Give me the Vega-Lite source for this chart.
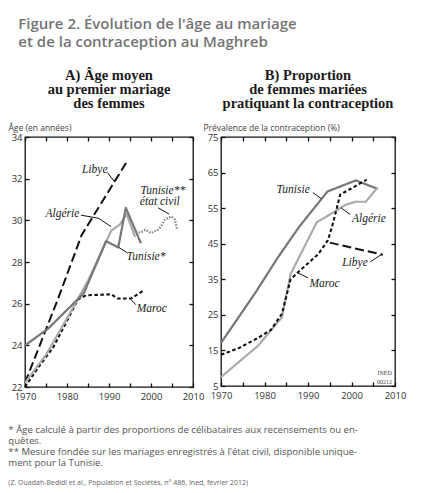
{
  "$schema": "https://vega.github.io/schema/vega-lite/v6.json",
  "padding": {"left": 7, "top": 17, "right": 5, "bottom": 2},
  "background": "white",
  "datasets": {
    "ageLignes": [
      {"pays": "Libye", "annee": 1970, "valeur": 22.2},
      {"pays": "Libye", "annee": 1977.8, "valeur": 26.2},
      {"pays": "Libye", "annee": 1983.5, "valeur": 29.3},
      {"pays": "Libye", "annee": 1994.5, "valeur": 32.9},
      {"pays": "Maroc", "annee": 1970, "valeur": 22.0},
      {"pays": "Maroc", "annee": 1973, "valeur": 22.9},
      {"pays": "Maroc", "annee": 1976.7, "valeur": 23.9},
      {"pays": "Maroc", "annee": 1979.8, "valeur": 25.1},
      {"pays": "Maroc", "annee": 1982.6, "valeur": 26.2},
      {"pays": "Maroc", "annee": 1984.5, "valeur": 26.4},
      {"pays": "Maroc", "annee": 1990.5, "valeur": 26.45},
      {"pays": "Maroc", "annee": 1992, "valeur": 26.25},
      {"pays": "Maroc", "annee": 1995.3, "valeur": 26.25},
      {"pays": "Maroc", "annee": 1998, "valeur": 26.6},
      {"pays": "Algérie", "annee": 1970, "valeur": 22.2},
      {"pays": "Algérie", "annee": 1975, "valeur": 23.55},
      {"pays": "Algérie", "annee": 1980, "valeur": 25.3},
      {"pays": "Algérie", "annee": 1985, "valeur": 27.1},
      {"pays": "Algérie", "annee": 1988, "valeur": 28.4},
      {"pays": "Algérie", "annee": 1990.5, "valeur": 29.5},
      {"pays": "Algérie", "annee": 1992.6, "valeur": 29.8},
      {"pays": "Algérie", "annee": 1994.2, "valeur": 30.3},
      {"pays": "Algérie", "annee": 1996.2, "valeur": 29.2},
      {"pays": "Tunisie", "annee": 1970, "valeur": 24.0},
      {"pays": "Tunisie", "annee": 1975.5, "valeur": 24.8},
      {"pays": "Tunisie", "annee": 1984, "valeur": 26.5},
      {"pays": "Tunisie", "annee": 1989.3, "valeur": 29.0},
      {"pays": "Tunisie", "annee": 1992.2, "valeur": 28.7},
      {"pays": "Tunisie", "annee": 1994, "valeur": 30.6},
      {"pays": "Tunisie", "annee": 1997.6, "valeur": 28.9},
      {"pays": "Tunisie (état civil)", "annee": 1996.4, "valeur": 29.47},
      {"pays": "Tunisie (état civil)", "annee": 1997.5, "valeur": 29.4},
      {"pays": "Tunisie (état civil)", "annee": 1998.6, "valeur": 29.55},
      {"pays": "Tunisie (état civil)", "annee": 2000, "valeur": 29.39},
      {"pays": "Tunisie (état civil)", "annee": 2001.7, "valeur": 29.55},
      {"pays": "Tunisie (état civil)", "annee": 2002.5, "valeur": 29.75},
      {"pays": "Tunisie (état civil)", "annee": 2003.3, "valeur": 30.03},
      {"pays": "Tunisie (état civil)", "annee": 2004.8, "valeur": 30.19},
      {"pays": "Tunisie (état civil)", "annee": 2005.7, "valeur": 30.03},
      {"pays": "Tunisie (état civil)", "annee": 2006.2, "valeur": 29.55}
    ],
    "contraLignes": [
      {"pays": "Tunisie", "annee": 1970, "valeur": 17.1},
      {"pays": "Tunisie", "annee": 1978, "valeur": 31.4},
      {"pays": "Tunisie", "annee": 1983, "valeur": 41.0},
      {"pays": "Tunisie", "annee": 1988, "valeur": 49.8},
      {"pays": "Tunisie", "annee": 1994.5, "valeur": 59.7},
      {"pays": "Tunisie", "annee": 2001, "valeur": 62.8},
      {"pays": "Tunisie", "annee": 2006, "valeur": 60.4},
      {"pays": "Algérie", "annee": 1970, "valeur": 7.5},
      {"pays": "Algérie", "annee": 1978.5, "valeur": 16.3},
      {"pays": "Algérie", "annee": 1984, "valeur": 24.3},
      {"pays": "Algérie", "annee": 1986, "valeur": 36.5},
      {"pays": "Algérie", "annee": 1992, "valeur": 51.0},
      {"pays": "Algérie", "annee": 1995, "valeur": 53.2},
      {"pays": "Algérie", "annee": 1998.7, "valeur": 56.0},
      {"pays": "Algérie", "annee": 2001, "valeur": 56.8},
      {"pays": "Algérie", "annee": 2003.3, "valeur": 56.8},
      {"pays": "Algérie", "annee": 2006, "valeur": 60.8},
      {"pays": "Maroc", "annee": 1970, "valeur": 13.8},
      {"pays": "Maroc", "annee": 1974, "valeur": 15.6},
      {"pays": "Maroc", "annee": 1978.5, "valeur": 18.5},
      {"pays": "Maroc", "annee": 1981.5, "valeur": 20.8},
      {"pays": "Maroc", "annee": 1984, "valeur": 25.3},
      {"pays": "Maroc", "annee": 1986, "valeur": 35.0},
      {"pays": "Maroc", "annee": 1988, "valeur": 37.3},
      {"pays": "Maroc", "annee": 1992.3, "valeur": 42.0},
      {"pays": "Maroc", "annee": 1994.6, "valeur": 46.0},
      {"pays": "Maroc", "annee": 1995.8, "valeur": 51.0},
      {"pays": "Maroc", "annee": 1997.4, "valeur": 58.8},
      {"pays": "Maroc", "annee": 2003.5, "valeur": 63.0},
      {"pays": "Libye", "annee": 1995, "valeur": 45.3},
      {"pays": "Libye", "annee": 2007.2, "valeur": 41.9}
    ],
    "ageEtiquettes": [
      {"texte": "Libye", "annee": 1986.6, "valeur": 32.43},
      {"texte": "Algérie", "annee": 1978.9, "valeur": 30.3},
      {"texte": "Tunisie*", "annee": 1998.8, "valeur": 28.26},
      {"texte": "Tunisie**", "annee": 2002.8, "valeur": 31.42},
      {"texte": "état civil", "annee": 2002.1, "valeur": 30.88},
      {"texte": "Maroc", "annee": 2000.2, "valeur": 25.75}
    ],
    "contraEtiquettes": [
      {"texte": "Tunisie", "annee": 1986.6, "valeur": 60.0},
      {"texte": "Algérie", "annee": 2004.0, "valeur": 52.0},
      {"texte": "Libye", "annee": 2000.8, "valeur": 39.7},
      {"texte": "Maroc", "annee": 1993.8, "valeur": 33.6}
    ],
    "contraSource": [
      {"texte": "INED", "annee": 2007.6, "valeur": 8.6},
      {"texte": "00212", "annee": 2007.6, "valeur": 6.0}
    ],
    "ageFleches": [
      {"x1": 1989.6, "y1": 32.3, "x2": 1991.3, "y2": 31.85},
      {"x1": 1983.3, "y1": 30.25, "x2": 1987.5, "y2": 30.1},
      {"x1": 1987.5, "y1": 30.1, "x2": 1990.5, "y2": 29.7},
      {"x1": 1992.3, "y1": 28.7, "x2": 1994.3, "y2": 28.45},
      {"x1": 2001.7, "y1": 30.6, "x2": 2004.3, "y2": 30.3},
      {"x1": 1995.2, "y1": 26.2, "x2": 1996.4, "y2": 25.95}
    ],
    "contraFleches": [
      {"x1": 1991.1, "y1": 59.4, "x2": 1993.0, "y2": 57.7},
      {"x1": 1997.6, "y1": 55.1, "x2": 1999.7, "y2": 53.2},
      {"x1": 2004.3, "y1": 39.9, "x2": 2006.8, "y2": 41.9},
      {"x1": 1987.7, "y1": 36.8, "x2": 1990.0, "y2": 35.4}
    ]
  },
  "title": {
    "text": ["Figure 2. Évolution de l'âge au mariage", "et de la contraception au Maghreb"],
    "anchor": "start",
    "frame": "bounds",
    "dx": 11,
    "font": "Open Sans",
    "fontSize": 15,
    "fontWeight": 600,
    "color": "#747474",
    "lineHeight": 17.5,
    "offset": 17
  },
  "vconcat": [
    {
      "bounds": "flush",
      "spacing": 28,
      "title": {
        "text": [
          "* Âge calculé à partir des proportions de célibataires aux recensements ou en-",
          "quêtes.",
          "** Mesure fondée sur les mariages enregistrés à l'état civil, disponible unique-",
          "ment pour la Tunisie."
        ],
        "subtitle": "(Z. Ouadah-Bedidi et al., Population et Sociétés, n° 486, Ined, février 2012)",
        "orient": "bottom",
        "anchor": "start",
        "frame": "bounds",
        "dx": 1,
        "font": "Open Sans",
        "fontSize": 9.6,
        "fontWeight": "normal",
        "color": "#555555",
        "lineHeight": 11,
        "offset": 24,
        "subtitleFont": "Open Sans",
        "subtitleFontSize": 7,
        "subtitleColor": "#666666",
        "subtitlePadding": 11
      },
      "hconcat": [
        {
          "width": 168,
          "height": 250,
          "title": {
            "text": ["A) Âge moyen", "au premier mariage", "des femmes"],
            "anchor": "middle",
            "frame": "group",
            "font": "Liberation Serif",
            "fontSize": 14.5,
            "fontWeight": "bold",
            "color": "#1a1a1a",
            "lineHeight": 14,
            "offset": 12
          },
          "layer": [
            {
              "data": {"name": "ageLignes"},
              "mark": {"type": "line", "strokeCap": "butt", "strokeJoin": "round"},
              "encoding": {
                "x": {
                  "field": "annee", "type": "quantitative",
                  "scale": {"domain": [1970, 2010], "nice": false, "zero": false},
                  "axis": {"orient": "bottom", "labelPadding": 8, "values": [1970, 1975, 1980, 1985, 1990, 1995, 2000, 2005, 2010], "labelExpr": "datum.value % 10 === 0 ? datum.label : ''", "format": "d", "title": null}
                },
                "y": {
                  "field": "valeur", "type": "quantitative",
                  "scale": {"domain": [22, 34], "nice": false, "zero": false},
                  "axis": {"orient": "left", "values": [22, 24, 26, 28, 30, 32, 34], "title": "Âge (en années)", "titleAngle": 0, "titleAlign": "left", "titleBaseline": "alphabetic", "titleX": -17, "titleY": -7}
                },
                "color": {"field": "pays", "type": "nominal", "legend": null, "scale": {"domain": ["Libye", "Maroc", "Algérie", "Tunisie", "Tunisie (état civil)"], "range": ["#111111", "#111111", "#aaaaaa", "#777777", "#888888"]}},
                "strokeDash": {"field": "pays", "type": "nominal", "legend": null, "scale": {"domain": ["Libye", "Maroc", "Algérie", "Tunisie", "Tunisie (état civil)"], "range": [[9, 4], [3.5, 2.5], [1, 0], [1, 0], [1.5, 1.5]]}},
                "strokeWidth": {"field": "pays", "type": "nominal", "legend": null, "scale": {"domain": ["Libye", "Maroc", "Algérie", "Tunisie", "Tunisie (état civil)"], "range": [2, 2.3, 3.2, 1.1, 0.8]}}
              }
            },
            {
              "data": {"name": "ageFleches"},
              "mark": {"type": "rule", "color": "#111111", "strokeWidth": 1},
              "encoding": {
                "x": {"field": "x1", "type": "quantitative", "scale": {"domain": [1970, 2010], "nice": false, "zero": false}, "axis": {"orient": "top", "values": [1970, 1975, 1980, 1985, 1990, 1995, 2000, 2005, 2010], "labels": false, "title": null}},
                "y": {"field": "y1", "type": "quantitative", "scale": {"domain": [22, 34], "nice": false, "zero": false}, "axis": {"orient": "right", "values": [22, 24, 26, 28, 30, 32, 34], "labels": false, "title": null}},
                "x2": {"field": "x2"},
                "y2": {"field": "y2"}
              }
            },
            {
              "data": {"name": "ageEtiquettes"},
              "mark": {"type": "text", "font": "Liberation Serif", "fontStyle": "italic", "fontSize": 11.5, "color": "#222222", "align": "center", "baseline": "middle"},
              "encoding": {
                "x": {"field": "annee", "type": "quantitative", "scale": {"domain": [1970, 2010], "nice": false, "zero": false}, "axis": null},
                "y": {"field": "valeur", "type": "quantitative", "scale": {"domain": [22, 34], "nice": false, "zero": false}, "axis": null},
                "text": {"field": "texte"}
              }
            }
          ],
          "resolve": {"axis": {"x": "independent", "y": "independent"}}
        },
        {
          "width": 174,
          "height": 249,
          "title": {
            "text": ["B) Proportion", "de femmes mariées", "pratiquant la contraception"],
            "anchor": "middle",
            "frame": "group",
            "font": "Liberation Serif",
            "fontSize": 14.5,
            "fontWeight": "bold",
            "color": "#1a1a1a",
            "lineHeight": 14,
            "offset": 12
          },
          "layer": [
            {
              "data": {"name": "contraLignes"},
              "mark": {"type": "line", "strokeCap": "butt", "strokeJoin": "round"},
              "encoding": {
                "x": {
                  "field": "annee", "type": "quantitative",
                  "scale": {"domain": [1970, 2010], "nice": false, "zero": false},
                  "axis": {"orient": "bottom", "labelPadding": 8, "values": [1970, 1975, 1980, 1985, 1990, 1995, 2000, 2005, 2010], "labelExpr": "datum.value % 10 === 0 ? datum.label : ''", "format": "d", "title": null}
                },
                "y": {
                  "field": "valeur", "type": "quantitative",
                  "scale": {"domain": [5, 75], "nice": false, "zero": false},
                  "axis": {"orient": "left", "values": [5, 15, 25, 35, 45, 55, 65, 75], "title": "Prévalence de la contraception (%)", "titleAngle": 0, "titleAlign": "left", "titleBaseline": "alphabetic", "titleX": -18, "titleY": -7}
                },
                "color": {"field": "pays", "type": "nominal", "legend": null, "scale": {"domain": ["Libye", "Maroc", "Algérie", "Tunisie", "Tunisie (état civil)"], "range": ["#111111", "#111111", "#aaaaaa", "#777777", "#888888"]}},
                "strokeDash": {"field": "pays", "type": "nominal", "legend": null, "scale": {"domain": ["Libye", "Maroc", "Algérie", "Tunisie", "Tunisie (état civil)"], "range": [[9, 4], [3.5, 2.5], [1, 0], [1, 0], [1.5, 1.5]]}},
                "strokeWidth": {"field": "pays", "type": "nominal", "legend": null, "scale": {"domain": ["Libye", "Maroc", "Algérie", "Tunisie", "Tunisie (état civil)"], "range": [2, 2.3, 3.2, 1.1, 0.8]}}
              }
            },
            {
              "data": {"name": "contraFleches"},
              "mark": {"type": "rule", "color": "#111111", "strokeWidth": 1},
              "encoding": {
                "x": {"field": "x1", "type": "quantitative", "scale": {"domain": [1970, 2010], "nice": false, "zero": false}, "axis": {"orient": "top", "values": [1970, 1975, 1980, 1985, 1990, 1995, 2000, 2005, 2010], "labels": false, "title": null}},
                "y": {"field": "y1", "type": "quantitative", "scale": {"domain": [5, 75], "nice": false, "zero": false}, "axis": {"orient": "right", "values": [5, 15, 25, 35, 45, 55, 65, 75], "labels": false, "title": null}},
                "x2": {"field": "x2"},
                "y2": {"field": "y2"}
              }
            },
            {
              "data": {"name": "contraEtiquettes"},
              "mark": {"type": "text", "font": "Liberation Serif", "fontStyle": "italic", "fontSize": 11.5, "color": "#222222", "align": "center", "baseline": "middle"},
              "encoding": {
                "x": {"field": "annee", "type": "quantitative", "scale": {"domain": [1970, 2010], "nice": false, "zero": false}, "axis": null},
                "y": {"field": "valeur", "type": "quantitative", "scale": {"domain": [5, 75], "nice": false, "zero": false}, "axis": null},
                "text": {"field": "texte"}
              }
            },
            {
              "data": {"name": "contraSource"},
              "mark": {"type": "text", "font": "Liberation Sans Narrow", "fontSize": 6, "color": "#444444", "align": "center", "baseline": "middle"},
              "encoding": {
                "x": {"field": "annee", "type": "quantitative", "scale": {"domain": [1970, 2010], "nice": false, "zero": false}, "axis": null},
                "y": {"field": "valeur", "type": "quantitative", "scale": {"domain": [5, 75], "nice": false, "zero": false}, "axis": null},
                "text": {"field": "texte"}
              }
            }
          ],
          "resolve": {"axis": {"x": "independent", "y": "independent"}}
        }
      ]
    }
  ],
  "config": {
    "view": {"stroke": "#111111", "strokeWidth": 1.3},
    "axis": {
      "domain": false,
      "grid": false,
      "ticks": true,
      "tickSize": -4,
      "tickColor": "#111111",
      "tickWidth": 1.3,
      "labelPadding": 7,
      "labelFont": "Open Sans",
      "labelFontSize": 9.5,
      "labelColor": "#333333",
      "labelFlush": false,
      "labelOverlap": false,
      "titleFont": "Open Sans",
      "titleFontSize": 8.5,
      "titleFontWeight": "normal",
      "titleColor": "#444444",
      "titlePadding": 0
    }
  }
}
